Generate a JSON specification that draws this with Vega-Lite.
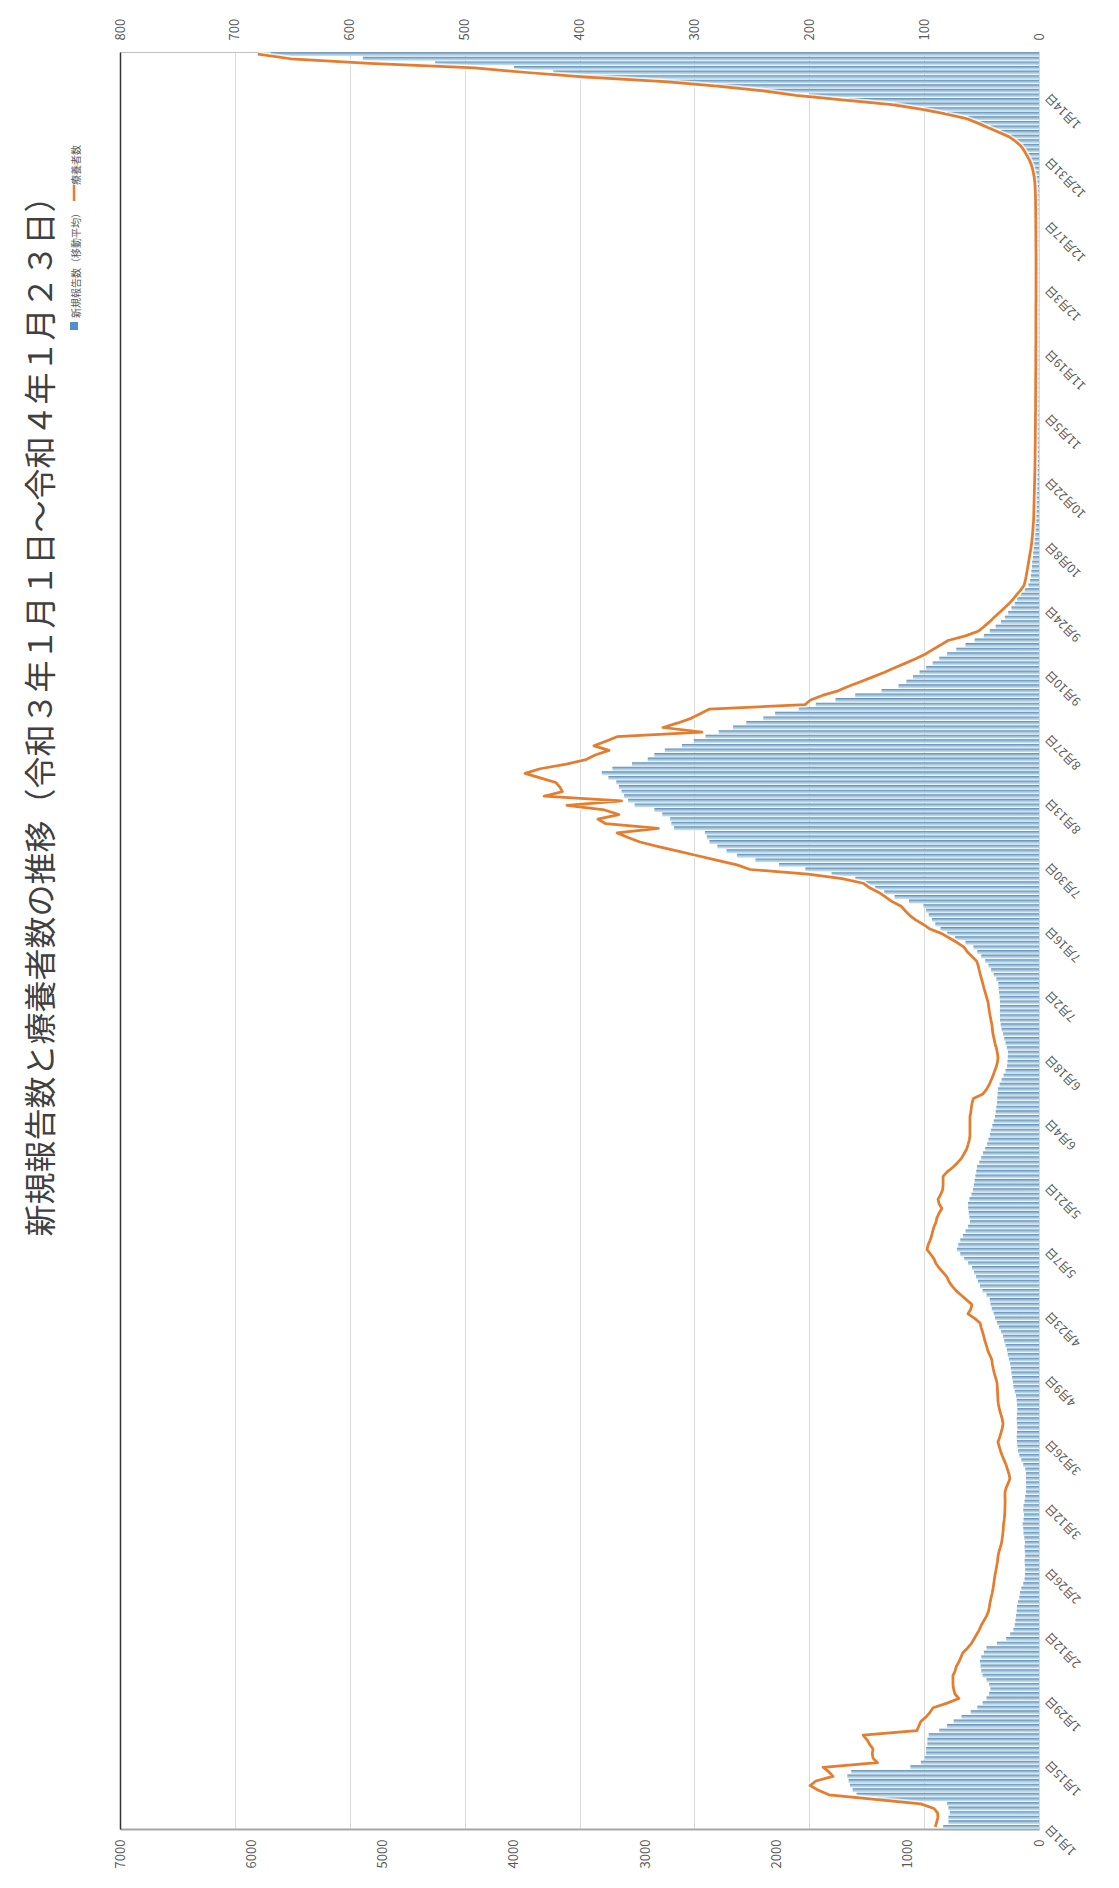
{
"$schema":"https://vega.github.io/schema/vega-lite/v6.json",
"width":919,"height":1777,
"autosize":{"type":"none"},
"padding":{"left":120,"top":52,"right":80,"bottom":59},
"background":"white",
"config":{"font":"Noto Sans CJK JP","view":{"stroke":null},"axis":{"labelFont":"Noto Sans CJK JP","labelColor":"#595959"},"legend":{"labelFont":"Noto Sans CJK JP"}},
"title":{"text":"新規報告数と療養者数の推移（令和３年１月１日～令和４年１月２３日）","orient":"left","anchor":"middle","fontSize":32,"fontWeight":"normal","color":"#404040","offset":10,"dx":232},
"data":{"values":[
{"d":"2021-01-01","b":730,"l":90.3},{"d":"2021-01-02","b":690,"l":89.1},{"d":"2021-01-03","b":690,"l":88.0},{"d":"2021-01-04","b":680,"l":88.2},{"d":"2021-01-05","b":690,"l":91.4},{"d":"2021-01-06","b":700,"l":102.9},{"d":"2021-01-07","b":1230,"l":142.9},{"d":"2021-01-08","b":1390,"l":182.9},{"d":"2021-01-09","b":1420,"l":192.0},{"d":"2021-01-10","b":1440,"l":199.3},{"d":"2021-01-11","b":1450,"l":194.3},{"d":"2021-01-12","b":1460,"l":179.4},{"d":"2021-01-13","b":1430,"l":182.9},{"d":"2021-01-14","b":980,"l":188.0},{"d":"2021-01-15","b":900,"l":140.6},{"d":"2021-01-16","b":870,"l":144.5},{"d":"2021-01-17","b":860,"l":145.1},{"d":"2021-01-18","b":860,"l":144.5},{"d":"2021-01-19","b":850,"l":147.4},{"d":"2021-01-20","b":850,"l":149.7},{"d":"2021-01-21","b":840,"l":153.1},{"d":"2021-01-22","b":760,"l":106.3},{"d":"2021-01-23","b":700,"l":104.6},{"d":"2021-01-24","b":650,"l":102.9},{"d":"2021-01-25","b":590,"l":98.3},{"d":"2021-01-26","b":520,"l":94.9},{"d":"2021-01-27","b":470,"l":92.2},{"d":"2021-01-28","b":430,"l":80.0},{"d":"2021-01-29","b":400,"l":69.7},{"d":"2021-01-30","b":380,"l":73.1},{"d":"2021-01-31","b":370,"l":74.3},
{"d":"2021-02-01","b":380,"l":74.9},{"d":"2021-02-02","b":400,"l":74.9},{"d":"2021-02-03","b":430,"l":74.9},{"d":"2021-02-04","b":440,"l":73.1},{"d":"2021-02-05","b":445,"l":72.0},{"d":"2021-02-06","b":450,"l":69.7},{"d":"2021-02-07","b":440,"l":68.0},{"d":"2021-02-08","b":420,"l":66.3},{"d":"2021-02-09","b":400,"l":62.3},{"d":"2021-02-10","b":320,"l":58.9},{"d":"2021-02-11","b":250,"l":56.6},{"d":"2021-02-12","b":220,"l":54.3},{"d":"2021-02-13","b":195,"l":52.0},{"d":"2021-02-14","b":185,"l":50.3},{"d":"2021-02-15","b":180,"l":48.0},{"d":"2021-02-16","b":175,"l":45.7},{"d":"2021-02-17","b":170,"l":44.0},{"d":"2021-02-18","b":168,"l":43.2},{"d":"2021-02-19","b":160,"l":42.6},{"d":"2021-02-20","b":150,"l":41.7},{"d":"2021-02-21","b":145,"l":40.8},{"d":"2021-02-22","b":135,"l":40.0},{"d":"2021-02-23","b":120,"l":39.4},{"d":"2021-02-24","b":110,"l":38.9},{"d":"2021-02-25","b":107,"l":38.3},{"d":"2021-02-26","b":105,"l":37.5},{"d":"2021-02-27","b":108,"l":36.8},{"d":"2021-02-28","b":110,"l":36.1},
{"d":"2021-03-01","b":105,"l":35.7},{"d":"2021-03-02","b":108,"l":34.9},{"d":"2021-03-03","b":110,"l":33.7},{"d":"2021-03-04","b":107,"l":32.6},{"d":"2021-03-05","b":112,"l":32.0},{"d":"2021-03-06","b":118,"l":31.5},{"d":"2021-03-07","b":120,"l":31.1},{"d":"2021-03-08","b":125,"l":30.9},{"d":"2021-03-09","b":118,"l":30.3},{"d":"2021-03-10","b":115,"l":29.9},{"d":"2021-03-11","b":120,"l":29.7},{"d":"2021-03-12","b":118,"l":29.6},{"d":"2021-03-13","b":110,"l":29.5},{"d":"2021-03-14","b":105,"l":29.6},{"d":"2021-03-15","b":100,"l":29.6},{"d":"2021-03-16","b":98,"l":28.6},{"d":"2021-03-17","b":100,"l":26.9},{"d":"2021-03-18","b":99,"l":25.3},{"d":"2021-03-19","b":99,"l":26.1},{"d":"2021-03-20","b":105,"l":27.4},{"d":"2021-03-21","b":120,"l":28.6},{"d":"2021-03-22","b":135,"l":30.3},{"d":"2021-03-23","b":150,"l":32.0},{"d":"2021-03-24","b":160,"l":33.4},{"d":"2021-03-25","b":165,"l":34.6},{"d":"2021-03-26","b":168,"l":35.7},{"d":"2021-03-27","b":170,"l":34.3},{"d":"2021-03-28","b":168,"l":33.1},{"d":"2021-03-29","b":165,"l":32.0},{"d":"2021-03-30","b":168,"l":31.3},{"d":"2021-03-31","b":170,"l":32.0},
{"d":"2021-04-01","b":168,"l":33.1},{"d":"2021-04-02","b":165,"l":34.3},{"d":"2021-04-03","b":168,"l":35.2},{"d":"2021-04-04","b":170,"l":35.7},{"d":"2021-04-05","b":175,"l":35.9},{"d":"2021-04-06","b":185,"l":36.1},{"d":"2021-04-07","b":195,"l":36.3},{"d":"2021-04-08","b":198,"l":36.6},{"d":"2021-04-09","b":205,"l":37.7},{"d":"2021-04-10","b":210,"l":38.9},{"d":"2021-04-11","b":215,"l":39.8},{"d":"2021-04-12","b":220,"l":40.6},{"d":"2021-04-13","b":230,"l":41.1},{"d":"2021-04-14","b":238,"l":42.9},{"d":"2021-04-15","b":244,"l":44.6},{"d":"2021-04-16","b":255,"l":45.7},{"d":"2021-04-17","b":265,"l":47.0},{"d":"2021-04-18","b":274,"l":48.0},{"d":"2021-04-19","b":290,"l":49.1},{"d":"2021-04-20","b":305,"l":50.3},{"d":"2021-04-21","b":320,"l":51.3},{"d":"2021-04-22","b":335,"l":56.0},{"d":"2021-04-23","b":345,"l":61.8},{"d":"2021-04-24","b":360,"l":59.4},{"d":"2021-04-25","b":370,"l":58.3},{"d":"2021-04-26","b":375,"l":62.9},{"d":"2021-04-27","b":400,"l":67.4},{"d":"2021-04-28","b":430,"l":72.0},{"d":"2021-04-29","b":450,"l":75.4},{"d":"2021-04-30","b":465,"l":78.3},
{"d":"2021-05-01","b":480,"l":80.0},{"d":"2021-05-02","b":495,"l":83.4},{"d":"2021-05-03","b":510,"l":86.9},{"d":"2021-05-04","b":540,"l":89.7},{"d":"2021-05-05","b":570,"l":91.4},{"d":"2021-05-06","b":600,"l":94.3},{"d":"2021-05-07","b":625,"l":97.5},{"d":"2021-05-08","b":615,"l":96.6},{"d":"2021-05-09","b":600,"l":94.9},{"d":"2021-05-10","b":580,"l":93.5},{"d":"2021-05-11","b":560,"l":92.6},{"d":"2021-05-12","b":540,"l":91.4},{"d":"2021-05-13","b":526,"l":89.7},{"d":"2021-05-14","b":530,"l":88.8},{"d":"2021-05-15","b":535,"l":86.9},{"d":"2021-05-16","b":540,"l":84.5},{"d":"2021-05-17","b":541,"l":86.9},{"d":"2021-05-18","b":530,"l":87.9},{"d":"2021-05-19","b":515,"l":85.7},{"d":"2021-05-20","b":503,"l":84.0},{"d":"2021-05-21","b":495,"l":83.5},{"d":"2021-05-22","b":490,"l":83.5},{"d":"2021-05-23","b":485,"l":83.5},{"d":"2021-05-24","b":478,"l":80.0},{"d":"2021-05-25","b":472,"l":74.9},{"d":"2021-05-26","b":455,"l":70.9},{"d":"2021-05-27","b":440,"l":67.4},{"d":"2021-05-28","b":427,"l":65.1},{"d":"2021-05-29","b":410,"l":62.9},{"d":"2021-05-30","b":395,"l":61.7},{"d":"2021-05-31","b":385,"l":60.6},
{"d":"2021-06-01","b":373,"l":60.1},{"d":"2021-06-02","b":365,"l":60.1},{"d":"2021-06-03","b":355,"l":60.1},{"d":"2021-06-04","b":345,"l":60.1},{"d":"2021-06-05","b":335,"l":60.1},{"d":"2021-06-06","b":330,"l":59.4},{"d":"2021-06-07","b":325,"l":58.9},{"d":"2021-06-08","b":320,"l":58.3},{"d":"2021-06-09","b":318,"l":57.1},{"d":"2021-06-10","b":315,"l":48.8},{"d":"2021-06-11","b":312,"l":45.7},{"d":"2021-06-12","b":300,"l":43.4},{"d":"2021-06-13","b":285,"l":41.7},{"d":"2021-06-14","b":270,"l":40.0},{"d":"2021-06-15","b":255,"l":38.6},{"d":"2021-06-16","b":244,"l":37.1},{"d":"2021-06-17","b":240,"l":36.1},{"d":"2021-06-18","b":238,"l":35.7},{"d":"2021-06-19","b":236,"l":36.3},{"d":"2021-06-20","b":245,"l":37.1},{"d":"2021-06-21","b":255,"l":38.3},{"d":"2021-06-22","b":265,"l":39.1},{"d":"2021-06-23","b":274,"l":40.0},{"d":"2021-06-24","b":285,"l":40.6},{"d":"2021-06-25","b":292,"l":40.9},{"d":"2021-06-26","b":297,"l":41.7},{"d":"2021-06-27","b":297,"l":42.5},{"d":"2021-06-28","b":298,"l":43.2},{"d":"2021-06-29","b":297,"l":43.8},{"d":"2021-06-30","b":297,"l":44.3},
{"d":"2021-07-01","b":300,"l":45.5},{"d":"2021-07-02","b":305,"l":46.6},{"d":"2021-07-03","b":308,"l":47.8},{"d":"2021-07-04","b":310,"l":48.8},{"d":"2021-07-05","b":325,"l":49.9},{"d":"2021-07-06","b":345,"l":51.0},{"d":"2021-07-07","b":365,"l":52.0},{"d":"2021-07-08","b":385,"l":52.9},{"d":"2021-07-09","b":410,"l":54.3},{"d":"2021-07-10","b":440,"l":58.3},{"d":"2021-07-11","b":470,"l":62.3},{"d":"2021-07-12","b":500,"l":65.1},{"d":"2021-07-13","b":560,"l":70.9},{"d":"2021-07-14","b":640,"l":77.7},{"d":"2021-07-15","b":700,"l":84.6},{"d":"2021-07-16","b":750,"l":94.9},{"d":"2021-07-17","b":790,"l":100.6},{"d":"2021-07-18","b":815,"l":107.4},{"d":"2021-07-19","b":840,"l":112.6},{"d":"2021-07-20","b":860,"l":116.6},{"d":"2021-07-21","b":880,"l":120.0},{"d":"2021-07-22","b":990,"l":128.0},{"d":"2021-07-23","b":1100,"l":133.7},{"d":"2021-07-24","b":1180,"l":139.4},{"d":"2021-07-25","b":1250,"l":147.4},{"d":"2021-07-26","b":1320,"l":153.1},{"d":"2021-07-27","b":1400,"l":171.4},{"d":"2021-07-28","b":1580,"l":201.1},{"d":"2021-07-29","b":1780,"l":251.4},{"d":"2021-07-30","b":1980,"l":262.9},{"d":"2021-07-31","b":2160,"l":280.0},
{"d":"2021-08-01","b":2300,"l":297.1},{"d":"2021-08-02","b":2380,"l":314.3},{"d":"2021-08-03","b":2450,"l":331.4},{"d":"2021-08-04","b":2510,"l":347.4},{"d":"2021-08-05","b":2530,"l":357.7},{"d":"2021-08-06","b":2545,"l":367.3},{"d":"2021-08-07","b":2780,"l":331.4},{"d":"2021-08-08","b":2800,"l":377.1},{"d":"2021-08-09","b":2810,"l":384.0},{"d":"2021-08-10","b":2870,"l":365.7},{"d":"2021-08-11","b":2930,"l":378.3},{"d":"2021-08-12","b":3080,"l":410.9},{"d":"2021-08-13","b":3130,"l":363.4},{"d":"2021-08-14","b":3160,"l":430.9},{"d":"2021-08-15","b":3180,"l":414.9},{"d":"2021-08-16","b":3200,"l":417.1},{"d":"2021-08-17","b":3220,"l":420.6},{"d":"2021-08-18","b":3280,"l":434.3},{"d":"2021-08-19","b":3330,"l":447.4},{"d":"2021-08-20","b":3250,"l":434.3},{"d":"2021-08-21","b":3100,"l":411.4},{"d":"2021-08-22","b":2980,"l":394.3},{"d":"2021-08-23","b":2930,"l":386.3},{"d":"2021-08-24","b":2850,"l":374.3},{"d":"2021-08-25","b":2720,"l":387.4},{"d":"2021-08-26","b":2630,"l":377.1},{"d":"2021-08-27","b":2540,"l":367.3},{"d":"2021-08-28","b":2440,"l":293.4},{"d":"2021-08-29","b":2330,"l":327.3},{"d":"2021-08-30","b":2230,"l":314.3},{"d":"2021-08-31","b":2100,"l":302.9},
{"d":"2021-09-01","b":2010,"l":294.9},{"d":"2021-09-02","b":1830,"l":287.3},{"d":"2021-09-03","b":1700,"l":203.7},{"d":"2021-09-04","b":1550,"l":198.9},{"d":"2021-09-05","b":1400,"l":188.6},{"d":"2021-09-06","b":1200,"l":174.9},{"d":"2021-09-07","b":1070,"l":165.7},{"d":"2021-09-08","b":1010,"l":155.4},{"d":"2021-09-09","b":960,"l":145.1},{"d":"2021-09-10","b":910,"l":134.9},{"d":"2021-09-11","b":860,"l":126.2},{"d":"2021-09-12","b":810,"l":116.6},{"d":"2021-09-13","b":760,"l":107.4},{"d":"2021-09-14","b":700,"l":99.2},{"d":"2021-09-15","b":630,"l":92.6},{"d":"2021-09-16","b":560,"l":85.7},{"d":"2021-09-17","b":490,"l":79.2},{"d":"2021-09-18","b":420,"l":64.0},{"d":"2021-09-19","b":375,"l":53.1},{"d":"2021-09-20","b":330,"l":48.0},{"d":"2021-09-21","b":290,"l":43.4},{"d":"2021-09-22","b":260,"l":39.2},{"d":"2021-09-23","b":235,"l":34.9},{"d":"2021-09-24","b":210,"l":30.6},{"d":"2021-09-25","b":185,"l":26.3},{"d":"2021-09-26","b":168,"l":22.6},{"d":"2021-09-27","b":140,"l":19.4},{"d":"2021-09-28","b":110,"l":16.0},{"d":"2021-09-29","b":80,"l":13.1},{"d":"2021-09-30","b":68,"l":12.0},
{"d":"2021-10-01","b":62,"l":11.2},{"d":"2021-10-02","b":58,"l":10.5},{"d":"2021-10-03","b":54,"l":9.8},{"d":"2021-10-04","b":52,"l":9.1},{"d":"2021-10-05","b":48,"l":8.5},{"d":"2021-10-06","b":45,"l":7.8},{"d":"2021-10-07","b":42,"l":7.1},{"d":"2021-10-08","b":40,"l":6.5},{"d":"2021-10-09","b":38,"l":6.1},{"d":"2021-10-10","b":35,"l":5.7},{"d":"2021-10-11","b":33,"l":5.4},{"d":"2021-10-12","b":30,"l":5.1},{"d":"2021-10-13","b":28,"l":4.8},{"d":"2021-10-14","b":27,"l":4.6},{"d":"2021-10-15","b":26,"l":4.5},{"d":"2021-10-16","b":25,"l":4.4},{"d":"2021-10-17","b":24,"l":4.3},{"d":"2021-10-18","b":23,"l":4.2},{"d":"2021-10-19","b":22,"l":4.1},{"d":"2021-10-20","b":21,"l":4.0},{"d":"2021-10-21","b":20,"l":3.9},{"d":"2021-10-22","b":19,"l":3.8},{"d":"2021-10-23","b":18,"l":3.7},{"d":"2021-10-24","b":17,"l":3.6},{"d":"2021-10-25","b":17,"l":3.5},{"d":"2021-10-26","b":16,"l":3.5},{"d":"2021-10-27","b":16,"l":3.4},{"d":"2021-10-28","b":15,"l":3.4},{"d":"2021-10-29","b":15,"l":3.3},{"d":"2021-10-30","b":14,"l":3.3},{"d":"2021-10-31","b":15,"l":3.2},
{"d":"2021-11-01","b":14,"l":3.2},{"d":"2021-11-02","b":14,"l":3.2},{"d":"2021-11-03","b":13,"l":3.1},{"d":"2021-11-04","b":14,"l":3.1},{"d":"2021-11-05","b":13,"l":3.1},{"d":"2021-11-06","b":13,"l":3.0},{"d":"2021-11-07","b":14,"l":3.0},{"d":"2021-11-08","b":13,"l":3.0},{"d":"2021-11-09","b":12,"l":3.0},{"d":"2021-11-10","b":13,"l":2.9},{"d":"2021-11-11","b":12,"l":2.9},{"d":"2021-11-12","b":12,"l":2.9},{"d":"2021-11-13","b":13,"l":2.9},{"d":"2021-11-14","b":12,"l":2.9},{"d":"2021-11-15","b":12,"l":2.8},{"d":"2021-11-16","b":11,"l":2.8},{"d":"2021-11-17","b":12,"l":2.8},{"d":"2021-11-18","b":12,"l":2.8},{"d":"2021-11-19","b":11,"l":2.8},{"d":"2021-11-20","b":12,"l":2.8},{"d":"2021-11-21","b":11,"l":2.7},{"d":"2021-11-22","b":11,"l":2.7},{"d":"2021-11-23","b":12,"l":2.7},{"d":"2021-11-24","b":11,"l":2.7},{"d":"2021-11-25","b":11,"l":2.7},{"d":"2021-11-26","b":10,"l":2.7},{"d":"2021-11-27","b":11,"l":2.7},{"d":"2021-11-28","b":11,"l":2.7},{"d":"2021-11-29","b":10,"l":2.7},{"d":"2021-11-30","b":11,"l":2.6},
{"d":"2021-12-01","b":10,"l":2.6},{"d":"2021-12-02","b":10,"l":2.6},{"d":"2021-12-03","b":11,"l":2.6},{"d":"2021-12-04","b":10,"l":2.6},{"d":"2021-12-05","b":10,"l":2.6},{"d":"2021-12-06","b":11,"l":2.6},{"d":"2021-12-07","b":10,"l":2.6},{"d":"2021-12-08","b":10,"l":2.6},{"d":"2021-12-09","b":11,"l":2.6},{"d":"2021-12-10","b":10,"l":2.6},{"d":"2021-12-11","b":11,"l":2.6},{"d":"2021-12-12","b":11,"l":2.7},{"d":"2021-12-13","b":12,"l":2.7},{"d":"2021-12-14","b":11,"l":2.7},{"d":"2021-12-15","b":12,"l":2.7},{"d":"2021-12-16","b":12,"l":2.8},{"d":"2021-12-17","b":13,"l":2.8},{"d":"2021-12-18","b":12,"l":2.8},{"d":"2021-12-19","b":13,"l":2.9},{"d":"2021-12-20","b":14,"l":2.9},{"d":"2021-12-21","b":14,"l":3.0},{"d":"2021-12-22","b":15,"l":3.0},{"d":"2021-12-23","b":16,"l":3.1},{"d":"2021-12-24","b":17,"l":3.2},{"d":"2021-12-25","b":22,"l":3.4},{"d":"2021-12-26","b":25,"l":3.7},{"d":"2021-12-27","b":30,"l":4.1},{"d":"2021-12-28","b":35,"l":4.8},{"d":"2021-12-29","b":42,"l":5.7},{"d":"2021-12-30","b":52,"l":6.9},{"d":"2021-12-31","b":65,"l":8.6},
{"d":"2022-01-01","b":85,"l":10.9},{"d":"2022-01-02","b":105,"l":13.1},{"d":"2022-01-03","b":130,"l":16.0},{"d":"2022-01-04","b":170,"l":20.6},{"d":"2022-01-05","b":220,"l":26.3},{"d":"2022-01-06","b":290,"l":35.4},{"d":"2022-01-07","b":370,"l":44.6},{"d":"2022-01-08","b":450,"l":53.7},{"d":"2022-01-09","b":540,"l":64.0},{"d":"2022-01-10","b":700,"l":82.3},{"d":"2022-01-11","b":870,"l":102.9},{"d":"2022-01-12","b":1100,"l":128.0},{"d":"2022-01-13","b":1450,"l":171.4},{"d":"2022-01-14","b":1750,"l":211.4},{"d":"2022-01-15","b":2150,"l":240.0},{"d":"2022-01-16","b":2450,"l":280.0},{"d":"2022-01-17","b":2900,"l":325.7},{"d":"2022-01-18","b":3550,"l":394.3},{"d":"2022-01-19","b":3700,"l":445.7},{"d":"2022-01-20","b":4000,"l":491.4},{"d":"2022-01-21","b":4600,"l":582.9},{"d":"2022-01-22","b":5150,"l":651.4},{"d":"2022-01-23","b":5850,"l":680.0}
]},
"layer":[
{"mark":{"type":"bar","strokeWidth":0,"fill":{"gradient":"linear","x1":0,"y1":0,"x2":0,"y2":1,"stops":[{"offset":0,"color":"#5f86ad"},{"offset":0.5,"color":"#a0c5de"},{"offset":1,"color":"#cde7f4"}]}},
 "encoding":{
  "y":{"field":"d","type":"ordinal","sort":"descending","scale":{"paddingInner":0.15,"paddingOuter":0.05},
   "axis":{"orient":"right","title":null,"values":["2021-01-01","2021-01-15","2021-01-29","2021-02-12","2021-02-26","2021-03-12","2021-03-26","2021-04-09","2021-04-23","2021-05-07","2021-05-21","2021-06-04","2021-06-18","2021-07-02","2021-07-16","2021-07-30","2021-08-13","2021-08-27","2021-09-10","2021-09-24","2021-10-08","2021-10-22","2021-11-05","2021-11-19","2021-12-03","2021-12-17","2021-12-31","2022-01-14"],
    "labelExpr":"toNumber(slice(datum.value,5,7)) + '月' + toNumber(slice(datum.value,8,10)) + '日'",
    "labelAngle":225,"labelAlign":"right","labelBaseline":"middle","labelFontSize":12,"labelPadding":8,"ticks":false,"domain":false,"grid":false,"labelOverlap":false}},
  "x":{"field":"b","type":"quantitative","scale":{"domain":[0,7000],"reverse":true,"nice":false,"zero":true},
   "axis":{"orient":"bottom","title":null,"format":"d","values":[0,1000,2000,3000,4000,5000,6000,7000],"labelAngle":270,"labelFontSize":13,"labelPadding":10,"grid":false,"ticks":false,"domainColor":"#a6a6a6","domainWidth":2,"labelFlush":false}}
 }},
{"encoding":{
  "y":{"field":"d","type":"ordinal","sort":"descending","bandPosition":0.5,
   "axis":{"orient":"left","title":null,"labels":false,"ticks":false,"grid":false,"domain":true,"domainColor":"#333333","domainWidth":1.5}},
  "x":{"field":"l","type":"quantitative","scale":{"domain":[0,800],"reverse":true,"nice":false,"zero":true},
   "axis":{"orient":"top","title":null,"format":"d","values":[0,100,200,300,400,500,600,700,800],"labelAngle":270,"labelFontSize":13,"labelPadding":12,"grid":true,"gridColor":"#d9d9d9","gridWidth":1,"ticks":false,"domainColor":"#bfbfbf","labelFlush":false}}},
 "layer":[
  {"mark":{"type":"line","stroke":"white","strokeWidth":6,"opacity":0.7,"strokeJoin":"round"}},
  {"mark":{"type":"line","strokeWidth":2.75,"strokeJoin":"round"},
   "encoding":{"stroke":{"datum":"療養者数","type":"nominal","scale":{"domain":["療養者数","新規報告数（移動平均）"],"range":["#e57c2e","#4f91cd"]},
    "legend":{"orient":"none","direction":"vertical","legendX":-51,"legendY":136,"title":null,"padding":0,"rowPadding":2,"symbolType":"M0,-1L0,1","symbolSize":256,"symbolStrokeWidth":2.5,"labelFontSize":10,"labelColor":"#595959",
     "encode":{"symbols":{"update":{
        "shape":{"signal":"datum.value === '療養者数' ? 'M0,-1L0,1' : 'square'"},
        "size":{"signal":"datum.value === '療養者数' ? 256 : 64"},
        "fill":{"signal":"datum.value === '療養者数' ? 'transparent' : '#4f91cd'"},
        "strokeWidth":{"signal":"datum.value === '療養者数' ? 2.5 : 0"}}},
      "labels":{"update":{"angle":{"value":270},"align":{"value":"left"},"baseline":{"value":"middle"},"x":{"value":8},"y":{"value":-3}}}}}}}}
 ]}
],
"resolve":{"scale":{"x":"independent"},"axis":{"x":"independent","y":"independent"}}
}
